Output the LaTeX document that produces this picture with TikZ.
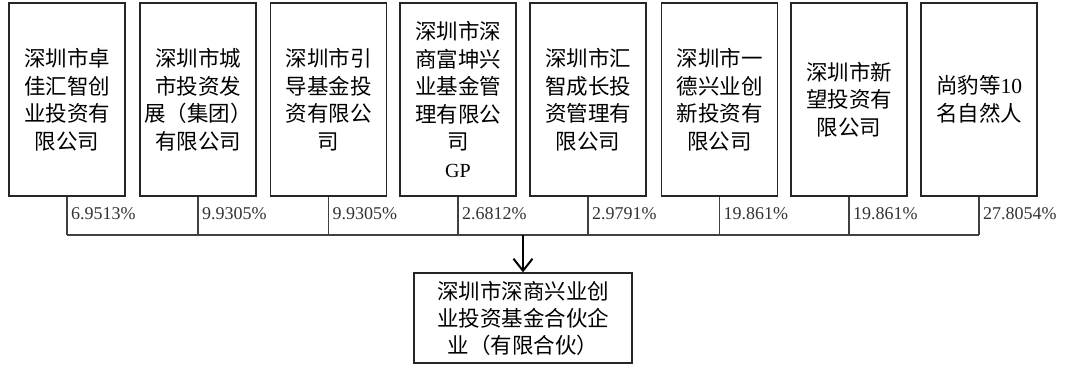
\documentclass[tikz,border=0pt]{standalone}
\usepackage{fontspec}
\setmainfont{Liberation Serif}
\newfontfamily\cjk{Noto Sans CJK SC}
\usetikzlibrary{arrows.meta,calc}
\begin{document}
\begin{tikzpicture}[x=1pt,y=-1pt,
  holder/.style={draw=black!85,line width=1.3pt,minimum width=116pt,minimum height=193pt,
    inner sep=0pt,align=center,font=\cjk\fontsize{21.5}{27.5}\selectfont},
  target/.style={draw=black!85,line width=1.3pt,minimum width=218pt,minimum height=90pt,
    inner sep=0pt,align=center,font=\cjk\fontsize{21.5}{27}\selectfont},
  link/.style={draw=black!75,line width=1.1pt},
  pct/.style={anchor=west,inner sep=0pt,font=\fontsize{18}{20}\selectfont,text=black!80},
  mainarrow/.style={draw=black,line width=2pt,-{Straight Barb[length=12pt,width=19pt,line width=2pt]}}]
\useasboundingbox (0,0) rectangle (1071,367);
\node[holder] (a1) at (67,99.5) {深圳市卓\\佳汇智创\\业投资有\\限公司};
\node[holder] (a2) at (198,99.5) {深圳市城\\市投资发\\展（集团）\\有限公司};
\node[holder] (a3) at (328.5,99.5) {深圳市引\\导基金投\\资有限公\\司};
\node[holder] (a4) at (458,99.5) {深圳市深\\商富坤兴\\业基金管\\理有限公\\司\\{\rmfamily\fontsize{20}{27.5}\selectfont GP}};
\node[holder] (a5) at (588,99.5) {深圳市汇\\智成长投\\资管理有\\限公司};
\node[holder] (a6) at (719.5,99.5) {深圳市一\\德兴业创\\新投资有\\限公司};
\node[holder] (a7) at (849,99.5) {深圳市新\\望投资有\\限公司};
\node[holder] (a8) at (979,99.5) {尚豹等{\rmfamily 10}\\名自然人};
\node[target] (b) at (523,318) {深圳市深商兴业创\\业投资基金合伙企\\业（有限合伙）};
\coordinate (m) at (523,235);
\foreach \i in {1,...,8}{
  \draw[link] (a\i.south) -- (a\i.south |- m);
}
\draw[link] (a1.south |- m) -- (a8.south |- m);
\draw[mainarrow] (m) -- (b.north);
\node[pct] (p1) at ($(a1.south)+(4,17)$) {6.9513\%};
\node[pct] (p2) at ($(a2.south)+(4,17)$) {9.9305\%};
\node[pct] (p3) at ($(a3.south)+(4,17)$) {9.9305\%};
\node[pct] (p4) at ($(a4.south)+(4,17)$) {2.6812\%};
\node[pct] (p5) at ($(a5.south)+(4,17)$) {2.9791\%};
\node[pct] (p6) at ($(a6.south)+(4,17)$) {19.861\%};
\node[pct] (p7) at ($(a7.south)+(4,17)$) {19.861\%};
\node[pct] (p8) at ($(a8.south)+(4,17)$) {27.8054\%};
\end{tikzpicture}
\end{document}
